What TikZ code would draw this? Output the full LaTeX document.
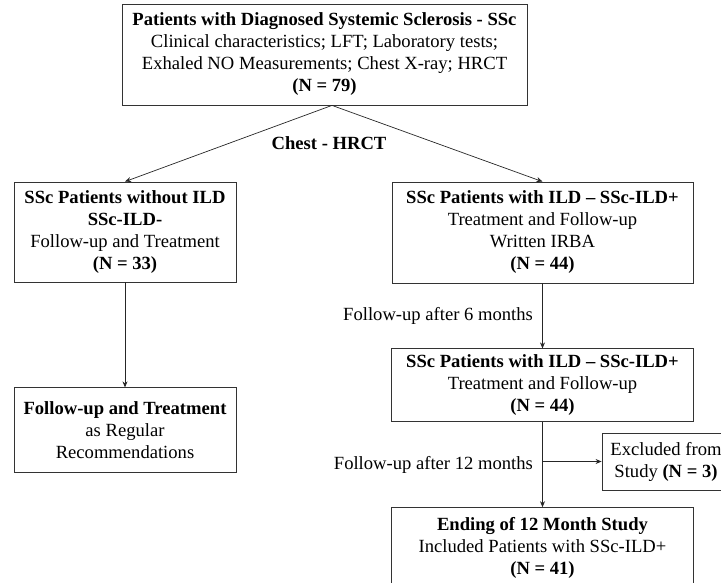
\documentclass[tikz,border=0pt]{standalone}
\usepackage{fontspec}
\setmainfont{Liberation Serif}
\usetikzlibrary{arrows.meta,positioning}
\newcommand{\boxfont}{\fontsize{18.6}{22}\selectfont}

\begin{document}
\begin{tikzpicture}[
    x=1pt, y=-1pt,
    block/.style={rectangle, draw=black!80, line width=0.8pt, align=center, inner sep=0pt, font=\boxfont},
    arrow/.style={-{Stealth[length=6pt, width=5pt]}, draw=black!85, line width=0.7pt},
    lbl/.style={font=\boxfont}
]
    \useasboundingbox (0,0) rectangle (721,583);
    \clip (0,0) rectangle (721,583);

    \node[block, minimum width=405pt, minimum height=101pt] (all) at (324.5,54.5)
        {\textbf{Patients with Diagnosed Systemic Sclerosis - SSc}\\
         Clinical characteristics; LFT; Laboratory tests;\\
         Exhaled NO Measurements; Chest X-ray; HRCT\\
         \textbf{(N = 79)}};
    \node[block, minimum width=222pt, minimum height=100pt] (noild) at (125,232)
        {\textbf{SSc Patients without ILD}\\ \textbf{SSc-ILD-}\\ Follow-up and Treatment\\ \textbf{(N = 33)}};
    \node[block, minimum width=301pt, minimum height=101pt] (ild) at (542.5,232.5)
        {\textbf{SSc Patients with ILD -- SSc-ILD+}\\ Treatment and Follow-up\\ Written IRBA\\ \textbf{(N = 44)}};
    \node[block, minimum width=222pt, minimum height=85pt, below=105pt of noild] (regular)
        {\textbf{Follow-up and Treatment}\\ as Regular\\ Recommendations};
    \node[block, minimum width=302pt, minimum height=73pt, below=65pt of ild] (ild6)
        {\textbf{SSc Patients with ILD -- SSc-ILD+}\\ Treatment and Follow-up\\ \textbf{(N = 44)}};
    \node[block, minimum width=302pt, minimum height=80pt, below=85pt of ild6] (final)
        {\textbf{Ending of 12 Month Study}\\ Included Patients with SSc-ILD+\\ \textbf{(N = 41)}};
    \node[block, minimum width=128pt, minimum height=57pt] (excl) at (666,461.5)
        {Excluded from\\ Study \textbf{(N = 3)}};

    \coordinate (split) at ([xshift=7.5pt]all.south);
    \node[lbl] (hrct) at (329,143) {\textbf{Chest - HRCT}};

    \draw[arrow] (split) -- (noild.north);
    \draw[arrow] (split) -- (ild.north);
    \draw[arrow] (noild) -- (regular);
    \draw[arrow] (ild) -- node[lbl, left=6pt] (m6) {Follow-up after 6 months} (ild6);
    \draw[arrow] (ild6) -- node[lbl, left=6pt] (m12) {Follow-up after 12 months} (final);
    \draw[arrow] (ild6.south |- excl.west) -- (excl.west);
\end{tikzpicture}
\end{document}
